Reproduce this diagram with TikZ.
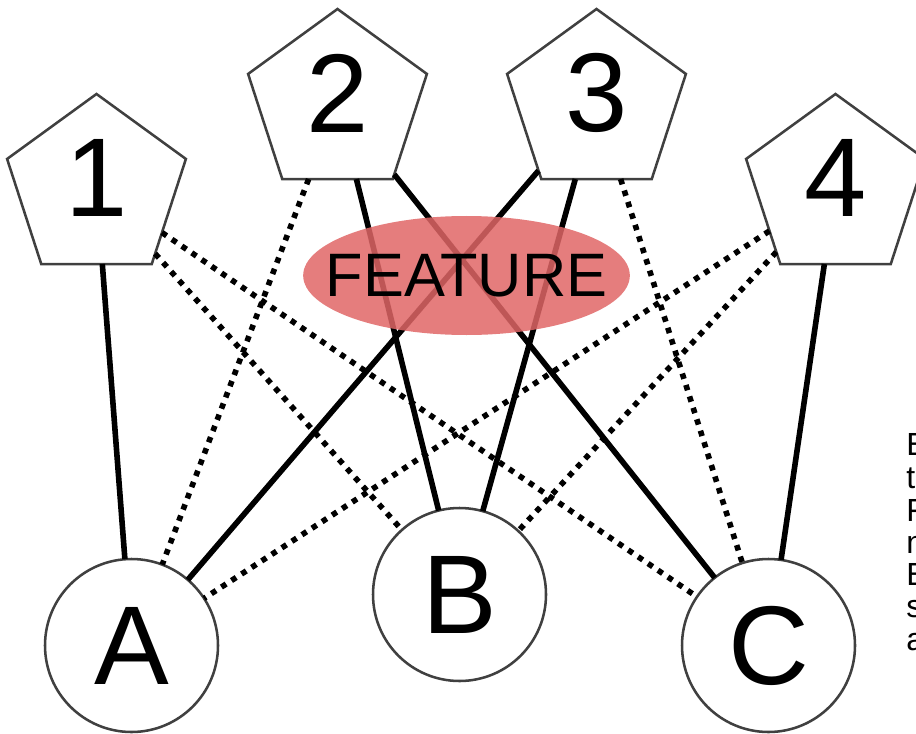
\documentclass[tikz,border=0pt]{standalone}
\usepackage{fontspec}
\setmainfont{Liberation Sans}
\usetikzlibrary{shapes.geometric}
\definecolor{featred}{HTML}{E06666}
\definecolor{shapeline}{HTML}{404040}
\tikzset{
  pent/.style={regular polygon, regular polygon sides=5, minimum size=141pt,
    inner sep=0pt, outer sep=0pt, draw=shapeline, line width=1.9pt, fill=white},
  disc/.style={circle, minimum size=129.75pt, inner sep=0pt, outer sep=0pt,
    draw=shapeline, line width=1.9pt, fill=white,
    font=\fontsize{84}{84}\selectfont},
  numlabel/.style={font=\fontsize{84}{84}\selectfont, inner sep=0pt},
  solidlink/.style={line width=4.2pt, draw=black},
  dotlink/.style={line width=4.2pt, draw=black, dash pattern=on 4.2pt off 4.8pt},
  featblob/.style={ellipse, minimum width=245pt, minimum height=89.25pt,
    inner sep=0pt, fill=featred, fill opacity=0.85},
  feattext/.style={inner sep=0pt, font=\fontsize{46}{46}\selectfont},
  sidetext/.style={anchor=base west, inner sep=0pt,
    font=\fontsize{24}{24}\selectfont},
}
\begin{document}
\begin{tikzpicture}[x=0.75pt, y=-0.75pt]
\useasboundingbox (0,0) rectangle (916,734);

% pentagons
\node[pent] (p1) at (96.5,188) {};
\node[pent] (p2) at (337.5,103) {};
\node[pent] (p3) at (596.5,103) {};
\node[pent] (p4) at (835.5,188) {};
\node[numlabel] (l1) at (96.5,178) {1};
\node[numlabel] (l2) at (337.5,93) {2};
\node[numlabel] (l3) at (596.5,93) {3};
\node[numlabel] (l4) at (835.5,178) {4};

% circles
\node[disc] (A) at (131.5,645.5) {A};
\node[disc] (B) at (459.5,594.5) {B};
\node[disc] (C) at (768.5,645.5) {C};

% solid links
\draw[solidlink] (p1) -- (A);
\draw[solidlink] (p2) -- (B);
\draw[solidlink] (p2) -- (C);
\draw[solidlink] (p3) -- (A);
\draw[solidlink] (p3) -- (B);
\draw[solidlink] (p4) -- (C);

% dotted links
\draw[dotlink] (p1) -- (B);
\draw[dotlink] (p1) -- (C);
\draw[dotlink] (p2) -- (A);
\draw[dotlink] (p3) -- (C);
\draw[dotlink] (p4) -- (A);
\draw[dotlink] (p4) -- (B);

% translucent feature blob over the links
\node[featblob] (blob) at (466.5,275.5) {};
\node[feattext] (feat) at (blob.center) {FEATURE};

% side text running past the right edge
\node[sidetext] (s1) at (906,455) {E};
\node[sidetext] (s2) at (906,488) {t};
\node[sidetext] (s3) at (906,521) {F};
\node[sidetext] (s4) at (906,553) {n};
\node[sidetext] (s5) at (906,585) {E};
\node[sidetext] (s6) at (906,617) {s};
\node[sidetext] (s7) at (906,650) {a};
\end{tikzpicture}
\end{document}
